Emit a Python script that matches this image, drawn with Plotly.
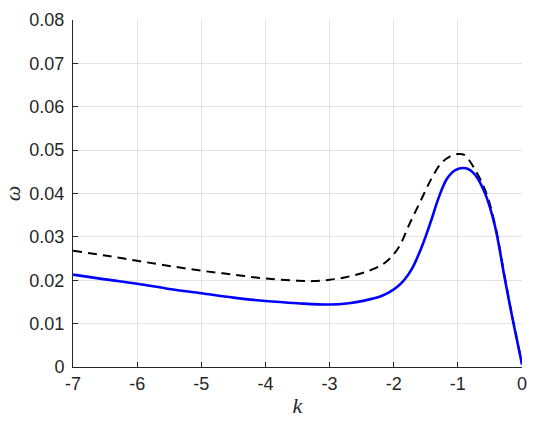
import plotly.graph_objects as go

# Black dashed curve
k_black = [-7, -6.5, -6, -5.5, -5, -4.5, -4, -3.5, -3.25, -3, -2.75, -2.46, -2.2, -2.06,
           -1.91, -1.76, -1.58, -1.42, -1.27, -1.14, -1.0, -0.9, -0.76, -0.57, -0.42,
           -0.27, -0.14, 0]
w_black = [0.0268, 0.0257, 0.0245, 0.0233, 0.0222, 0.0213, 0.0204, 0.0199, 0.0198, 0.0201,
           0.0207, 0.0218, 0.0234, 0.0250, 0.0279, 0.0328, 0.0383, 0.0432, 0.0468, 0.0484,
           0.0491, 0.0489, 0.0462, 0.0406, 0.0328, 0.0208, 0.0108, 0.0008]

# Blue solid curve
k_blue = [-7, -6.5, -6, -5.5, -5, -4.5, -4, -3.5, -3, -2.7, -2.46, -2.2, -2.06, -1.93,
          -1.84, -1.71, -1.55, -1.42, -1.30, -1.17, -1.04, -0.875, -0.73, -0.57, -0.42,
          -0.27, -0.14, 0]
w_blue = [0.0213, 0.0202, 0.0192, 0.0180, 0.0170, 0.0160, 0.0152, 0.0147, 0.0144, 0.0147,
          0.0153, 0.0163, 0.0173, 0.0187, 0.0200, 0.0228, 0.0282, 0.0336, 0.0390, 0.0434,
          0.0454, 0.0458, 0.0443, 0.0398, 0.0324, 0.0205, 0.0106, 0.0006]

x_ticks = [-7, -6, -5, -4, -3, -2, -1, 0]
y_ticks = [0, 0.01, 0.02, 0.03, 0.04, 0.05, 0.06, 0.07, 0.08]
y_tick_text = ["0", "0.01", "0.02", "0.03", "0.04", "0.05", "0.06", "0.07", "0.08"]

fig = go.Figure()
fig.add_trace(go.Scatter(x=k_black, y=w_black, mode="lines", line_shape="spline",
                         line=dict(color="black", width=2, dash="9px,6px", smoothing=1.0),
                         showlegend=False))
fig.add_trace(go.Scatter(x=k_blue, y=w_blue, mode="lines", line_shape="spline",
                         line=dict(color="#0000ff", width=2.6, smoothing=1.0),
                         showlegend=False))

axis_common = dict(showline=True, linecolor="#262626", linewidth=1,
                   ticks="inside", ticklen=5, tickcolor="#262626",
                   showgrid=True, gridcolor="#e3e3e3", gridwidth=1,
                   zeroline=False, mirror=False, automargin=False,
                   tickfont=dict(family="Liberation Sans, Arial, sans-serif", size=18, color="#262626"))

fig.update_xaxes(range=[-7, 0], tickvals=x_ticks, ticktext=[str(v) for v in x_ticks],
                 title=dict(text="<i>k</i>", font=dict(family="Liberation Serif, serif", size=22, color="#262626"),
                            standoff=5),
                 **axis_common)
fig.update_yaxes(range=[0, 0.08], tickvals=y_ticks, ticktext=y_tick_text,
                 title=dict(text="<i>ω</i>", font=dict(family="Liberation Serif, serif", size=22, color="#262626"),
                            standoff=10),
                 ticklabelstandoff=4,
                 **axis_common)

fig.update_layout(width=540, height=426, margin=dict(l=73, r=18, t=20, b=59),
                  plot_bgcolor="white", paper_bgcolor="white")

fig.write_html("out.html", config={"displayModeBar": False},
               post_script="document.body.style.margin='0px';")
